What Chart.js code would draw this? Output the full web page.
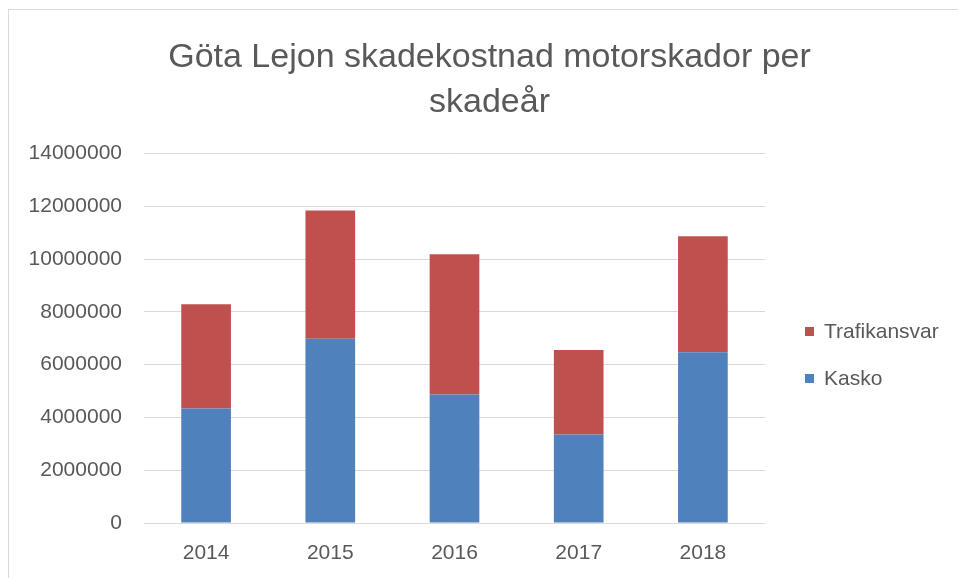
<!DOCTYPE html>
<html>
<head>
<meta charset="utf-8">
<script src="https://cdn.jsdelivr.net/npm/chart.js@4/dist/chart.umd.min.js"></script>
<style>
  html, body { margin: 0; padding: 0; background: #ffffff; }
  #wrap { position: relative; width: 958px; height: 578px; overflow: hidden; font-family: 'Liberation Sans', Arial, sans-serif; }
  #frame { position: absolute; left: 8px; top: 9px; width: 1000px; height: 1000px; border: 1px solid #d9d9d9; box-sizing: border-box; }
  canvas { position: absolute; left: 0; top: 0; }
  #legend { position: absolute; left: 805px; top: 0; }
  .li { position: absolute; left: 0; white-space: nowrap; font-size: 21px; color: #595959; line-height: 24px; height: 24px; }
  .li .sw { position: absolute; left: 0; top: 8px; width: 9px; height: 9px; }
  .li .tx { position: absolute; left: 19px; top: 0; }
</style>
</head>
<body>
<div id="wrap">
  <div id="frame"></div>
  <canvas id="c" width="958" height="578"></canvas>
  <div id="legend"></div>
</div>
<script>
const titleLines = ['Göta Lejon skadekostnad motorskador per', 'skadeår'];
const categories = ['2014', '2015', '2016', '2017', '2018'];
const kasko = [4340000, 6980000, 4870000, 3350000, 6470000];
const trafikansvar = [3950000, 4860000, 5310000, 3200000, 4390000];
const seriesNames = ['Kasko', 'Trafikansvar'];
const seriesColors = ['#4F81BD', '#C0504D'];
const yMin = 0, yMax = 14000000, yStep = 2000000;

Chart.defaults.font.family = "'Liberation Sans', Arial, sans-serif";
Chart.defaults.font.size = 21;
Chart.defaults.color = '#595959';

const chart = new Chart(document.getElementById('c'), {
  type: 'bar',
  data: {
    labels: categories,
    datasets: [
      { label: seriesNames[0], data: kasko, backgroundColor: seriesColors[0], borderWidth: 0,
        categoryPercentage: 0.8, barPercentage: 0.5 },
      { label: seriesNames[1], data: trafikansvar, backgroundColor: seriesColors[1], borderWidth: 0,
        categoryPercentage: 0.8, barPercentage: 0.5 }
    ]
  },
  options: {
    responsive: false,
    animation: false,
    layout: { padding: { left: 21, right: 0, top: 0, bottom: 0 } },
    plugins: {
      title: {
        display: true,
        text: titleLines,
        color: '#595959',
        font: { size: 34, weight: 'normal', lineHeight: 1.33 },
        padding: { top: 35, bottom: 28 }
      },
      legend: { display: false },
      tooltip: { enabled: false }
    },
    scales: {
      x: {
        stacked: true,
        grid: { display: false, drawTicks: false },
        border: { display: false },
        ticks: { padding: 18, color: '#595959' },
        afterFit: s => { s.height = 55; }
      },
      y: {
        stacked: true,
        min: yMin, max: yMax,
        grid: { color: '#D9D9D9', lineWidth: 1, drawTicks: false },
        border: { display: false },
        ticks: { stepSize: yStep, padding: 22, color: '#595959', callback: v => String(v) },
        afterFit: s => { s.width = 123; }
      },
      spacer: {
        position: 'right',
        display: true,
        grid: { display: false, drawTicks: false },
        border: { display: false },
        ticks: { display: false },
        afterFit: s => { s.width = 193; }
      }
    }
  }
});

// Legend built from the chart's own datasets (shown in reverse order, like the reference)
const legendEl = document.getElementById('legend');
const legendCenters = [331, 378];
chart.data.datasets.slice().reverse().forEach((ds, i) => {
  const item = document.createElement('div');
  item.className = 'li';
  item.style.top = (legendCenters[i] - 12) + 'px';
  const sw = document.createElement('span');
  sw.className = 'sw';
  sw.style.background = ds.backgroundColor;
  const tx = document.createElement('span');
  tx.className = 'tx';
  tx.textContent = ds.label;
  item.appendChild(sw);
  item.appendChild(tx);
  legendEl.appendChild(item);
});
</script>
</body>
</html>
